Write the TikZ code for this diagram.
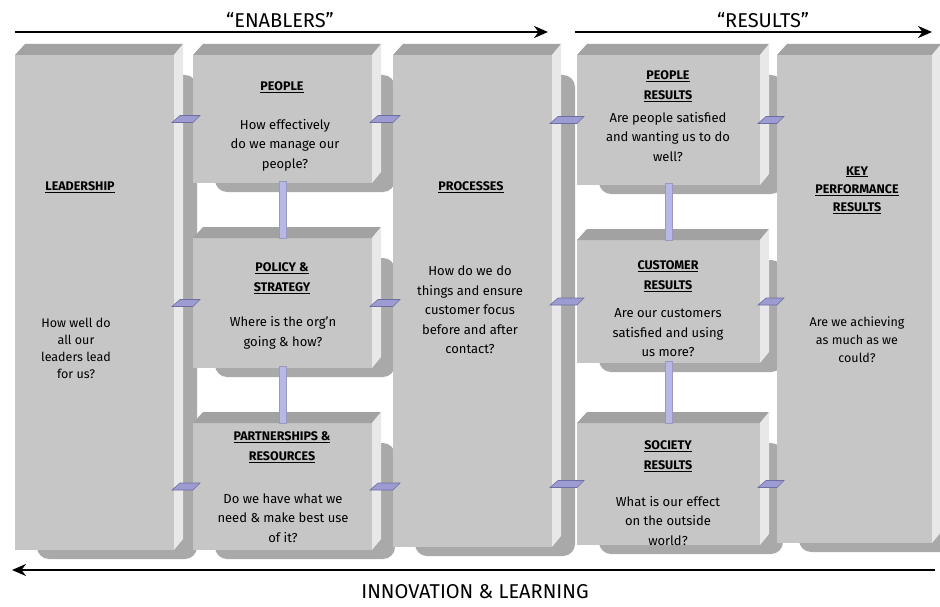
\documentclass[tikz,border=0pt]{standalone}
\usepackage{fontspec}
\setmainfont{Fira Sans}
\usetikzlibrary{calc,arrows.meta}
\pgfdeclarelayer{bg}\pgfsetlayers{bg,main}
\definecolor{frontc}{HTML}{C6C6C6}
\definecolor{topc}{HTML}{A2A2A2}
\definecolor{sidec}{HTML}{E8E8E8}
\definecolor{shadowc}{HTML}{A9A9A9}
\definecolor{tabfill}{HTML}{9C9CD2}
\definecolor{tabdark}{HTML}{6E6EA0}
\definecolor{linkfill}{HTML}{B8B8E6}
\tikzset{
  face/.style={inner sep=0pt, outer sep=0pt, fill=frontc},
  body/.style={font=\fontsize{13}{19.5}\selectfont, align=center, text=black},
  head/.style={font=\fontsize{12.5}{20}\selectfont\bfseries, align=center, text=black},
  tabshape/.style={fill=tabfill, draw=tabdark, line width=0.6pt},
  vlink/.style={fill=linkfill, draw=tabdark!70, line width=0.5pt},
  bigarrow/.style={line width=2.4pt, -{Stealth[length=14pt,width=12pt]}},
  title/.style={font=\fontsize{20}{22}\selectfont, text=black},
}
\newcommand\efqmbox[5]{%
  \node[face, minimum width=#4pt, minimum height=#5pt] (#1) at ({#2+#4/2},{#3+#5/2}) {};
  \fill[topc] (#1.north west) -- ++(10,-11) -- ($(#1.north east)+(9,-11)$) -- (#1.north east) -- cycle;
  \fill[sidec] (#1.north east) -- ++(9,-11) -- ($(#1.south east)+(9,-11)$) -- (#1.south east) -- cycle;
  \begin{pgfonlayer}{bg}
    \fill[shadowc, rounded corners=12pt] ($(#1.north west)+(22,20)$) rectangle ($(#1.south east)+(23,9)$);
  \end{pgfonlayer}
}
\newcommand\efqmtab[2]{%
  \fill[tabshape] ($(#1)+(-2,3.5)$) -- ($(#1)+(6,-3.5)$) -- ($(#2)+(7,-3.5)$) -- ($(#2)+(0,3.5)$) -- cycle;
}
\newcommand\efqmlink[2]{%
  \fill[vlink] ($(#1.south)+(-3.5,-2)$) rectangle ($(#2.north)+(3.5,0)$);
}
\begin{document}
\begin{tikzpicture}[x=1pt,y=-1pt]
\useasboundingbox (0,0) rectangle (940,607);
\begin{pgfonlayer}{bg}
\fill[white] (0,0) rectangle (940,607);
\end{pgfonlayer}

% boxes
\efqmbox{lead}{15}{55}{159}{495}
\efqmbox{people}{193}{55}{179}{128}
\efqmbox{policy}{193}{238}{179}{130}
\efqmbox{partner}{193}{423}{179}{127}
\efqmbox{proc}{393}{55}{159}{492}
\efqmbox{pres}{577}{55}{183}{130}
\efqmbox{cres}{577}{240}{183}{123}
\efqmbox{sres}{577}{423}{183}{122}
\efqmbox{kpr}{777}{55}{155}{488}

% vertical links
\efqmlink{people}{policy}
\efqmlink{policy}{partner}
\efqmlink{pres}{cres}
\efqmlink{cres}{sres}

% horizontal tabs
\efqmtab{lead.east |- people.west}{people.west}
\efqmtab{lead.east |- policy.west}{policy.west}
\efqmtab{lead.east |- partner.west}{partner.west}
\efqmtab{people.east}{proc.west |- people.east}
\efqmtab{policy.east}{proc.west |- policy.east}
\efqmtab{partner.east}{proc.west |- partner.east}
\efqmtab{proc.east |- pres.west}{pres.west}
\efqmtab{proc.east |- cres.west}{cres.west}
\efqmtab{proc.east |- sres.west}{sres.west}
\efqmtab{pres.east}{kpr.west |- pres.east}
\efqmtab{cres.east}{kpr.west |- cres.east}
\efqmtab{sres.east}{kpr.west |- sres.east}

% texts
\node[head] (lead-h) at (80,187) {\underline{LEADERSHIP}};
\node[body, font=\fontsize{12.5}{17}\selectfont] (lead-b) at (76,348) {How well do\\all our\\leaders lead\\for us?};

\node[head] (people-h) at (282,87) {\underline{PEOPLE}};
\node[body] (people-b) at (285,145) {How effectively\\do we manage our\\people?};

\node[head] (policy-h) at (282,278) {\underline{POLICY \&}\\\underline{STRATEGY}};
\node[body] (policy-b) at (283,333) {Where is the org’n\\going \& how?};

\node[head] (partner-h) at (282,447) {\underline{PARTNERSHIPS \&}\\\underline{RESOURCES}};
\node[body] (partner-b) at (283,518) {Do we have what we\\need \& make best use\\of it?};

\node[head] (proc-h) at (471,187) {\underline{PROCESSES}};
\node[body] (proc-b) at (470,310) {How do we do\\things and ensure\\customer focus\\before and after\\contact?};

\node[head] (pres-h) at (668,86) {\underline{PEOPLE}\\\underline{RESULTS}};
\node[body] (pres-b) at (668,137) {Are people satisfied\\and wanting us to do\\well?};

\node[head] (cres-h) at (668,276) {\underline{CUSTOMER}\\\underline{RESULTS}};
\node[body] (cres-b) at (668,333) {Are our customers\\satisfied and using\\us more?};

\node[head] (sres-h) at (668,456) {\underline{SOCIETY}\\\underline{RESULTS}};
\node[body] (sres-b) at (668,521) {What is our effect\\on the outside\\world?};

\node[head, font=\fontsize{12.5}{18}\selectfont\bfseries] (kpr-h) at (857,190) {\underline{KEY}\\\underline{PERFORMANCE}\\\underline{RESULTS}};
\node[body, font=\fontsize{12.5}{18}\selectfont] (kpr-b) at (857,340) {Are we achieving\\as much as we\\could?};

% top and bottom arrows
\coordinate (enA) at (15,32);
\coordinate (enB) at (548,32);
\coordinate (reA) at (575,32);
\coordinate (reB) at (932,32);
\coordinate (inA) at (935,570);
\coordinate (inB) at (12,570);
\draw[bigarrow] (enA) -- (enB);
\draw[bigarrow] (reA) -- (reB);
\draw[bigarrow] (inA) -- (inB);
\node[title] (en-t) at (280,20) {“ENABLERS”};
\node[title] (re-t) at (763,20) {“RESULTS”};
\node[title] (in-t) at (475,592) {INNOVATION \& LEARNING};
\end{tikzpicture}
\end{document}
